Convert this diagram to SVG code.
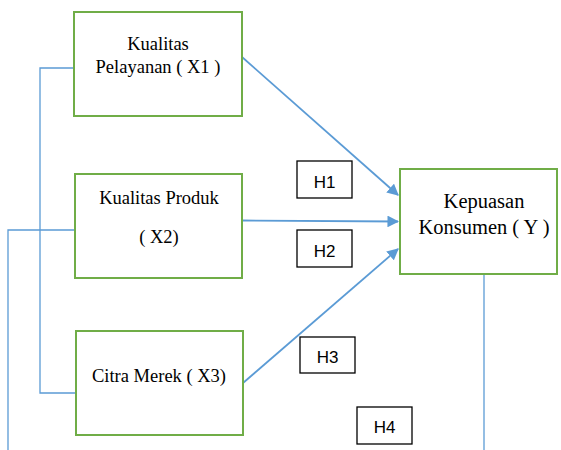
<svg xmlns="http://www.w3.org/2000/svg" width="561" height="450" viewBox="0 0 561 450">
<style>
.node{fill:#fff;stroke:#70AD47;stroke-width:2}
.hbox{fill:#fff;stroke:#000;stroke-width:1.3}
.t{font-family:"Liberation Serif","Times New Roman",serif;font-size:18.5px;fill:#000;text-anchor:middle}
.ty{font-size:20.5px}
.h{font-family:"Liberation Sans",Arial,sans-serif;font-size:17px;fill:#000;text-anchor:middle}
.ln{fill:none;stroke:#5B9BD5;stroke-width:1.3}
.ar{fill:none;stroke:#5B9BD5;stroke-width:1.8}
</style>
<defs>
<marker id="ah" viewBox="0 0 10 10" refX="9" refY="5" markerWidth="6.5" markerHeight="6.5" markerUnits="strokeWidth" orient="auto">
<path d="M0,0 L10,5 L0,10 z" fill="#5B9BD5"/>
</marker>
</defs>
<g id="connectors">
<polyline class="ln" points="74,68 40,68 40,393 76,393"/>
<polyline class="ln" points="75,230 8,230 8,450"/>
<line class="ln" x1="484" y1="274" x2="484" y2="450"/>
<line class="ar" x1="242" y1="57" x2="398" y2="195" marker-end="url(#ah)"/>
<line class="ar" x1="242" y1="220.5" x2="398" y2="221.5" marker-end="url(#ah)"/>
<line class="ar" x1="243" y1="383" x2="398" y2="249" marker-end="url(#ah)"/>
</g>
<g id="x1">
<rect class="node" x="74" y="12" width="168" height="104"/>
<text class="t" x="158" y="50">Kualitas</text>
<text class="t" x="158" y="73">Pelayanan ( X1 )</text>
</g>
<g id="x2">
<rect class="node" x="75" y="174" width="167" height="104"/>
<text class="t" x="159" y="204">Kualitas Produk</text>
<text class="t" x="159" y="243">( X2)</text>
</g>
<g id="x3">
<rect class="node" x="76" y="331" width="167" height="104"/>
<text class="t" x="159" y="382">Citra Merek ( X3)</text>
</g>
<g id="y">
<rect class="node" x="400" y="169" width="157" height="105"/>
<text class="t ty" x="484" y="208">Kepuasan</text>
<text class="t ty" x="484" y="234">Konsumen ( Y )</text>
</g>
<g id="h1">
<rect class="hbox" x="297" y="161" width="55" height="37"/>
<text class="h" x="324.5" y="188">H1</text>
</g>
<g id="h2">
<rect class="hbox" x="297" y="230" width="55" height="37"/>
<text class="h" x="324.5" y="257">H2</text>
</g>
<g id="h3">
<rect class="hbox" x="300" y="337" width="55" height="36"/>
<text class="h" x="327.5" y="363">H3</text>
</g>
<g id="h4">
<rect class="hbox" x="357" y="407" width="55" height="37"/>
<text class="h" x="384.5" y="433">H4</text>
</g>
</svg>
